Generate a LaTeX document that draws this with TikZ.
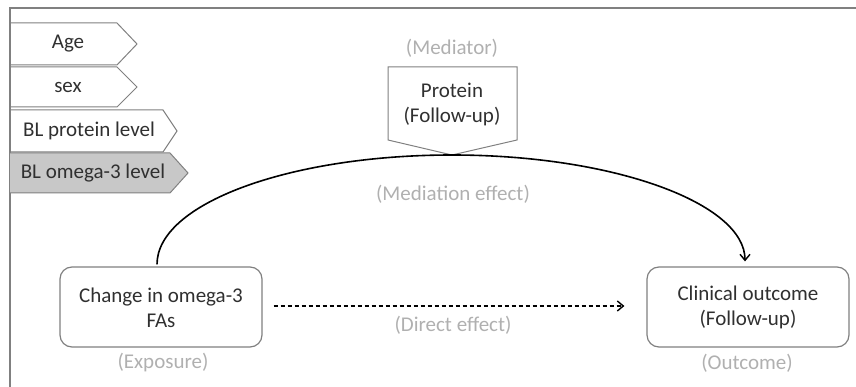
\documentclass[tikz,border=0pt]{standalone}
\usepackage{fontspec}
\setmainfont{Carlito}
\usetikzlibrary{arrows.meta,calc}
\definecolor{lblgray}{HTML}{B0B0B0}
\definecolor{edgegray}{HTML}{808080}
\definecolor{fillgray}{HTML}{C8C8C8}
\definecolor{txtgray}{HTML}{303030}
\begin{document}
\begin{tikzpicture}[x=1pt,y=-1pt,
  txt/.style={font=\fontsize{21}{25.5}\selectfont, text=txtgray, inner sep=0pt, align=center},
  glbl/.style={font=\fontsize{21}{25}\selectfont, text=lblgray, inner sep=0pt},
  tag/.style={draw=edgegray, line width=1pt},
  rbox/.style={draw=edgegray, line width=1.2pt, rounded corners=12pt, minimum width=202pt, minimum height=80pt, inner sep=0pt},
  frame/.style={draw=edgegray, line width=2pt},
  conn/.style={line width=1.6pt, black},
  tip/.style={-{Straight Barb[length=6pt,width=10pt,line width=1.4pt]}}
]
\useasboundingbox (0,0) rectangle (856,387);
% frame
\draw[frame] (856,8) -- (10,8) -- (10,387);
% covariate tags
\draw[tag] (10,23) -- (117,23) -- (137,44) -- (117,65) -- (10,65);
\node[txt] (age) at (68,44) {Age};
\draw[tag] (10,67) -- (117,67) -- (137,87) -- (117,107) -- (10,107);
\node[txt] (sex) at (68,87) {sex};
\draw[tag] (10,110) -- (163,110) -- (177,131) -- (163,152) -- (10,152);
\node[txt] (blp) at (89,131) {BL protein level};
\draw[tag, fill=fillgray] (10,153) -- (170,153) -- (188,173) -- (170,193) -- (10,193);
\node[txt] (blo) at (93,173) {BL omega-3 level};
% mediator
\draw[tag] (388,67) -- (517,67) -- (517,140) -- (452,155) -- (388,140) -- cycle;
\node[txt] (prot) at (452,104.5) {Protein\\(Follow-up)};
\node[glbl] (medlbl) at (452,48) {(Mediator)};
% exposure & outcome boxes
\node[rbox] (exp) at (161,307) {};
\node[txt] (exptxt) at (161,308) {Change in omega-3\\FAs};
\node[glbl] (explbl) at (163,363) {(Exposure)};
\node[rbox] (out) at (748,307) {};
\node[txt] (outtxt) at (748,307.5) {Clinical outcome\\(Follow-up)};
\node[glbl] (outlbl) at (747,363) {(Outcome)};
% labels
\node[glbl] (medeff) at (453,194) {(Mediation effect)};
\node[glbl] (direff) at (453,325) {(Direct effect)};
% connectors
\coordinate (a0) at ($(exp.north)+(-4,-2)$);
\coordinate (peak) at (452,155);
\coordinate (a1) at ($(out.north)+(-3,-5)$);
\draw[conn, tip] (a0) .. controls ($(a0)+(0,-61)$) and (290,155) .. (peak)
  .. controls (614,155) and ($(a1)+(0,-58)$) .. (a1);
\draw[conn, tip, dash pattern=on 4.5pt off 2.5pt, shorten <=11pt, shorten >=22pt] (exp.east |- 0,306) -- (out.west |- 0,306);
\end{tikzpicture}
\end{document}
